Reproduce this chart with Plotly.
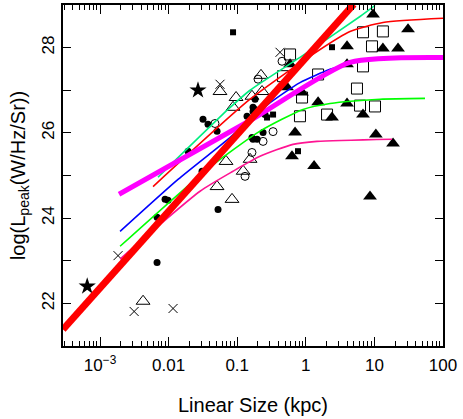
import plotly.graph_objects as go

# ---- data (x in kpc, y = log L_peak) ----
star_x = [0.0268, 0.00065]
star_y = [27.00, 22.40]

cross_x = [0.0561, 0.421, 0.00183, 0.00314, 0.0116]
cross_y = [27.14, 27.89, 23.12, 21.81, 21.88]

dot_x = [0.0317, 0.0375, 0.0508, 0.0192, 0.0307, 0.00887, 0.0098, 0.00678,
         0.0525, 0.139, 0.182, 0.170, 0.164, 0.195, 0.238, 0.170, 0.182,
         0.170, 0.254, 0.00678]
dot_y = [26.32, 26.20, 26.04, 25.57, 25.10, 24.44, 24.42, 22.96,
         24.20, 26.39, 26.55, 26.60, 25.89, 25.85, 26.01, 25.85, 26.79,
         26.50, 26.43, 24.02]

ocirc_x = [0.0474, 0.164, 0.130, 0.333, 0.238, 0.201, 0.450]
ocirc_y = [26.22, 25.54, 24.98, 26.03, 25.80, 27.26, 27.68]

otri_x = [0.0561, 0.0962, 0.0869, 0.164, 0.222, 0.230, 0.0687, 0.0508,
          0.0840, 0.122, 0.154, 0.00424]
otri_y = [26.97, 26.83, 26.60, 26.86, 27.35, 26.97, 25.33, 24.74,
          24.44, 25.10, 25.38, 22.05]

osq_x = [0.589, 0.466, 1.51, 0.881, 0.822, 2.04, 6.82, 13.3, 9.22, 6.82,
         5.57, 6.17, 10.2]
osq_y = [27.84, 27.33, 27.37, 26.83, 26.39, 26.43, 28.36, 28.38, 28.03,
         27.56, 27.04, 26.64, 26.62]

ftri_x = [9.55, 30.9, 3.99, 13.3, 22.1, 0.589, 3.99, 0.532, 0.881, 1.51,
          3.99, 6.82, 2.41, 0.697, 10.5, 18.7, 0.629, 1.32, 8.63]
ftri_y = [28.78, 28.43, 28.03, 27.98, 27.98, 27.61, 27.61, 27.07, 26.95,
          26.72, 26.69, 26.43, 26.36, 26.01, 25.96, 25.75, 25.45, 25.22,
          24.51]

fsq_x = [0.0869, 2.41, 0.333, 0.272, 0.769]
fsq_y = [28.36, 28.01, 26.43, 26.36, 25.57]

# model tracks (log10 of size in kpc, log L)
pink_lx = [-2.708, -1.542, -1.061, -0.668, -0.187, 0.163, 1.257]
pink_y = [23.04, 24.63, 25.10, 25.45, 25.73, 25.80, 25.85]

lime_lx = [-2.708, -1.440, -0.668, -0.041, 0.353, 1.082, 1.738]
lime_y = [23.34, 25.14, 26.04, 26.55, 26.69, 26.79, 26.81]

blue_lx = [-2.708, -1.863, -1.105, -0.551, -0.085, 0.353, 0.601]
blue_y = [23.69, 24.91, 25.89, 26.67, 27.18, 27.49, 27.61]

spring_lx = [-2.155, -1.134, -0.813, -0.085, 0.790, 1.009]
spring_y = [24.96, 26.55, 27.00, 27.77, 28.73, 28.99]

redthin_lx = [-2.227, -0.813, 0.163, 0.644, 1.125, 2.0]
redthin_y = [24.74, 26.79, 27.91, 28.38, 28.59, 28.69]

magenta_lx = [-2.723, -0.813, 0.644, 2.0]
magenta_y = [24.56, 26.29, 27.655, 27.77]

redthick_lx = [-3.54, 0.70]
redthick_y = [21.39, 29.02]

fig = go.Figure()


def add_pts(x, y, symbol, size, color="black", lw=1):
    fig.add_trace(go.Scatter(
        x=x, y=y, mode="markers",
        marker=dict(symbol=symbol, size=size, color=color,
                    line=dict(color="black", width=lw)),
        showlegend=False, hoverinfo="x+y"))


add_pts(ocirc_x, ocirc_y, "circle-open", 8)
add_pts(otri_x, otri_y, "triangle-up-open", 12)
add_pts(osq_x, osq_y, "square-open", 11)
add_pts(dot_x, dot_y, "circle", 7, lw=0)
add_pts(fsq_x, fsq_y, "square", 6, lw=0)
add_pts(ftri_x, ftri_y, "triangle-up", 12, lw=0)
add_pts(cross_x, cross_y, "x-thin-open", 9)
add_pts(star_x, star_y, "star", 13, lw=0)


def add_line(lx, y, color, width):
    fig.add_trace(go.Scatter(
        x=[10 ** v for v in lx], y=y, mode="lines",
        line=dict(color=color, width=width, shape="spline", smoothing=0.6),
        showlegend=False, hoverinfo="skip"))


add_line(pink_lx, pink_y, "#ff1493", 1.6)
add_line(lime_lx, lime_y, "#00ff00", 1.6)
add_line(blue_lx, blue_y, "#0000ff", 1.6)
add_line(spring_lx, spring_y, "#00ee80", 1.6)
add_line(redthin_lx, redthin_y, "#ff0000", 1.6)
add_line(magenta_lx, magenta_y, "#ff00ff", 5)
add_line(redthick_lx, redthick_y, "#ff0000", 7)

font = dict(family="Liberation Sans, Arial, sans-serif", size=17, color="black")

fig.update_layout(
    width=463, height=419,
    margin=dict(l=63, r=20, t=5, b=73),
    paper_bgcolor="white", plot_bgcolor="white",
    font=font,
    showlegend=False,
)

fig.update_xaxes(
    type="log", range=[-3.54, 2.0], automargin=False,
    tickmode="array",
    tickvals=[0.001, 0.01, 0.1, 1, 10, 100],
    ticktext=["10<sup>−3</sup>", "0.01", "0.1", "1", "10", "100"],
    ticks="inside", ticklen=9, tickwidth=1.3, tickcolor="black",
    ticklabelstandoff=3,
    minor=dict(ticks="inside", ticklen=5, tickwidth=1.2, tickcolor="black",
               dtick="D1", showgrid=False),
    showline=True, linecolor="black", linewidth=2, mirror="ticks",
    showgrid=False, zeroline=False,
    title=dict(text="Linear Size (kpc)", standoff=24),
)

fig.update_yaxes(
    range=[21.0, 29.0], automargin=False,
    tickmode="linear", tick0=22, dtick=2,
    tickangle=-90,
    ticks="inside", ticklen=8, tickwidth=1.3, tickcolor="black",
    minor=dict(ticks="inside", ticklen=8, tickwidth=1.3, tickcolor="black",
               dtick=1, showgrid=False),
    showline=True, linecolor="black", linewidth=2, mirror="ticks",
    showgrid=False, zeroline=False,
    title=dict(text="log(L<sub>peak</sub>(W/Hz/Sr))", standoff=8),
)

# the page's default body margin would shift the figure by 8px
fig.write_html("out.html", config={"displayModeBar": False},
               post_script="document.body.style.margin='0';")
